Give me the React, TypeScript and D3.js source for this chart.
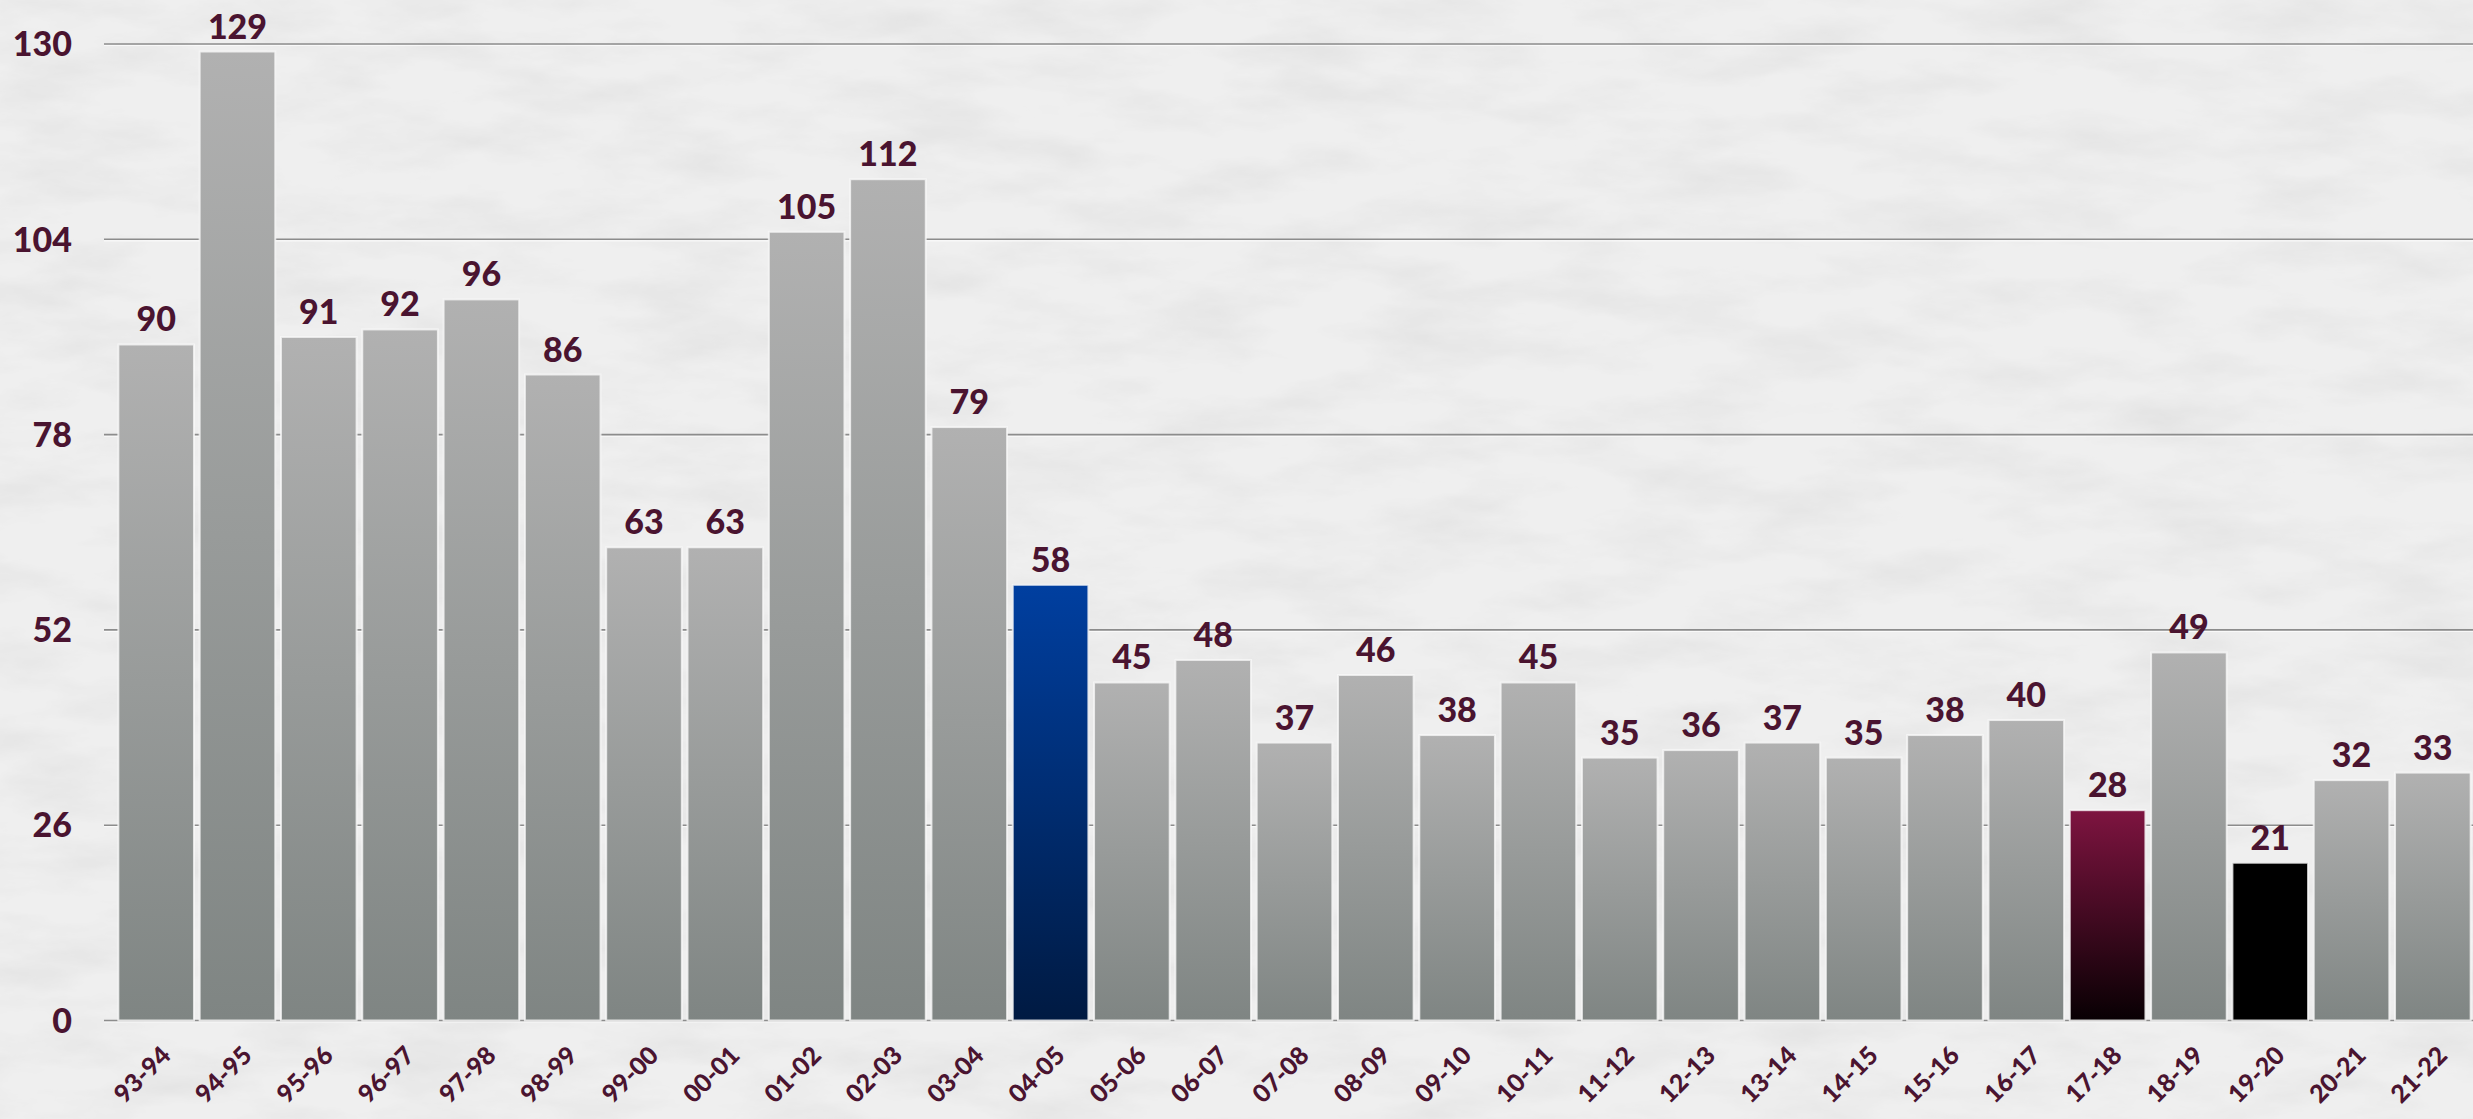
import * as d3 from "d3";

const seasons = [
  "93-94", "94-95", "95-96", "96-97", "97-98", "98-99", "99-00", "00-01",
  "01-02", "02-03", "03-04", "04-05", "05-06", "06-07", "07-08", "08-09",
  "09-10", "10-11", "11-12", "12-13", "13-14", "14-15", "15-16", "16-17",
  "17-18", "18-19", "19-20", "20-21", "21-22",
];

const values = [
  90, 129, 91, 92, 96, 86, 63, 63, 105, 112, 79, 58, 45, 48, 37, 46, 38, 45,
  35, 36, 37, 35, 38, 40, 28, 49, 21, 32, 33,
];

const yTicks = [0, 26, 52, 78, 104, 130];

// seasons drawn with a colour of their own
const highlights: Record<string, string> = {
  "04-05": "url(#gBlue)",
  "17-18": "url(#gMaroon)",
  "19-20": "#000000",
};

const W = 2473;
const H = 1119;
const TEXT = "#4a1430";
const FONT = "Lato, 'Open Sans', sans-serif";

export default function App() {
  const x = d3
    .scaleBand<string>()
    .domain(seasons)
    .range([115.5, 2473.5])
    .paddingInner(0.07)
    .paddingOuter(0.035);

  const y = d3.scaleLinear().domain([0, 130]).range([1020.5, 44]);

  return (
    <svg
      width={W}
      height={H}
      style={{ position: "absolute", left: 0, top: 0 }}
      fontFamily={FONT}
    >
      <defs>
        <linearGradient id="gGrey" x1="0" y1="0" x2="0" y2="1">
          <stop offset="0%" stopColor="#b1b1b1" />
          <stop offset="100%" stopColor="#7f8583" />
        </linearGradient>
        <linearGradient id="gBlue" x1="0" y1="0" x2="0" y2="1">
          <stop offset="0%" stopColor="#003fa0" />
          <stop offset="100%" stopColor="#001a42" />
        </linearGradient>
        <linearGradient id="gMaroon" x1="0" y1="0" x2="0" y2="1">
          <stop offset="0%" stopColor="#7e1440" />
          <stop offset="100%" stopColor="#080003" />
        </linearGradient>
        <filter id="marble" x="0" y="0" width="100%" height="100%">
          <feTurbulence
            type="fractalNoise"
            baseFrequency="0.008 0.025"
            numOctaves="5"
            seed="7"
          />
          <feColorMatrix
            type="matrix"
            values="0 0 0 0 0.55  0 0 0 0 0.55  0 0 0 0 0.55  0.5 0 0 0 -0.2"
          />
        </filter>
      </defs>

      {/* background */}
      <rect width={W} height={H} fill="#efefef" />
      <rect width={W} height={H} filter="url(#marble)" />

      {/* grid */}
      {yTicks.map((t) => (
        <g key={t}>
          <line
            x1={104}
            x2={W}
            y1={y(t) + 1.5}
            y2={y(t) + 1.5}
            stroke="#ffffff"
            strokeWidth={1.2}
            opacity={0.7}
          />
          <line
            x1={104}
            x2={W}
            y1={y(t)}
            y2={y(t)}
            stroke="#8c8c8c"
            strokeWidth={1.6}
          />
          <text
            x={72}
            y={y(t)}
            dy="0.36em"
            textAnchor="end"
            fontSize={34}
            fontWeight={900}
            fill={TEXT}
          >
            {t}
          </text>
        </g>
      ))}

      {/* bars */}
      {seasons.map((s, i) => {
        const v = values[i];
        const bx = x(s) ?? 0;
        return (
          <g key={s}>
            <rect
              x={bx}
              y={y(v)}
              width={x.bandwidth()}
              height={y(0) - y(v)}
              fill={highlights[s] || "url(#gGrey)"}
              stroke="#f7f7f7"
              strokeOpacity={0.8}
              strokeWidth={2}
            />
            <text
              x={bx + x.bandwidth() / 2}
              y={y(v) - 13}
              textAnchor="middle"
              fontSize={34}
              fontWeight={900}
              fill={TEXT}
            >
              {v}
            </text>
            <text
              transform={`translate(${bx + x.bandwidth() / 2 + 16},${1057}) rotate(-45)`}
              textAnchor="end"
              fontSize={25}
              fontWeight={900}
              fill={TEXT}
            >
              {s}
            </text>
          </g>
        );
      })}
    </svg>
  );
}
